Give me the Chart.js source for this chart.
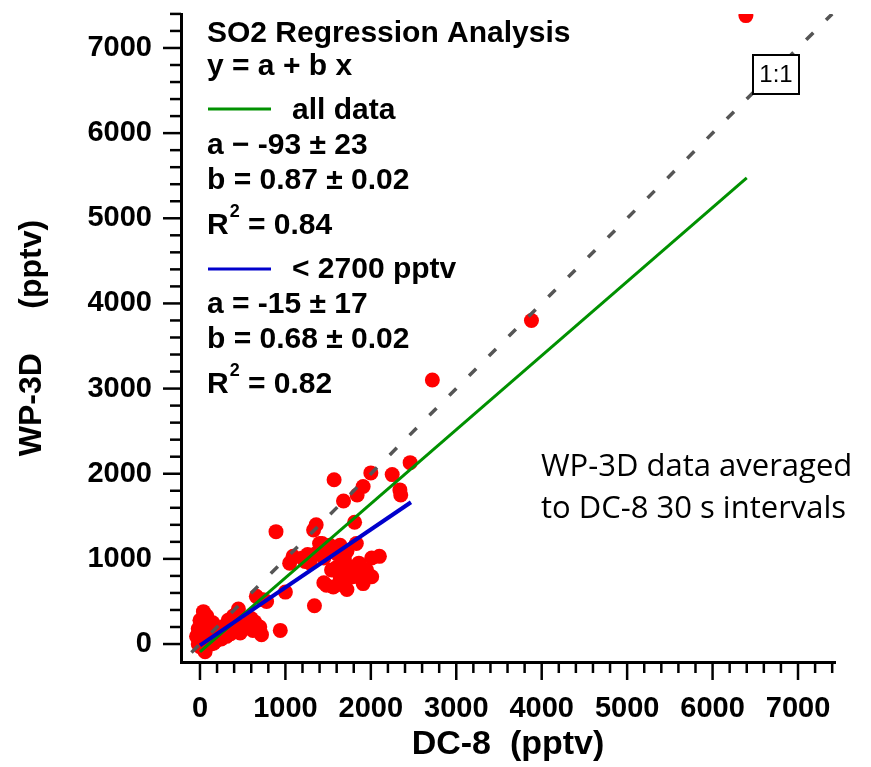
<!DOCTYPE html>
<html>
<head>
<meta charset="utf-8">
<script src="https://cdn.jsdelivr.net/npm/chart.js@4.4.1/dist/chart.umd.min.js"></script>
<style>
  body { margin: 0; background: #fff; }
  #wrap { width: 871px; height: 767px; position: relative; }
</style>
</head>
<body>
<div id="wrap"><canvas id="so2Chart"></canvas></div>
<script>
// DC-8 (x) vs WP-3D (y) SO2, pptv
const dc8 = [6390, 3880, 2720, 2460, 2250, 2340, 2350, 2000, 1910, 1840,
    1570, 1680, 1810, 890, 1360, 1330, 1400, 1520, 1640, 1720,
    1830, 1090, 1050, 1230, 1370, 1290, 1540, 1750, 2010, 2100,
    1950, 2010, 1910, 1480, 1640, 1720, 1790, 1560, 1000, 1340,
    940, 720, 660, 740, 780, 450, 390, 640, 700, 540,
    470, 270, 310, 530, 80, 0, -20, -40, 0, 60,
    160, 160, 230, 120, 40, 20, -20, 80, 200, 350,
    280, 420, 600, 1200, 1450, 1600, 1500, 1700, 1850, 1450,
    1620, 1430, 1560, 1300, 100, 50, 330, 580, 500, 360,
    10, 30, 60, 130, 250, 180, 420, 300, 150, 620,
    1660, 1860, 1600, 1690, 1260, 1420]
const wp3d = [7380, 3800, 3100, 2130, 1990, 1810, 1750, 2010, 1850, 1750,
    1930, 1680, 1430, 1320, 1400, 1340, 1180, 1160, 1160, 1090,
    1180, 1030, 950, 970, 1070, 950, 870, 910, 1010, 1030,
    870, 790, 710, 690, 790, 640, 790, 670, 610, 450,
    160, 110, 560, 520, 500, 410, 330, 260, 200, 190,
    130, 200, 90, 220, 330, 280, 180, 90, -30, -90,
    10, 50, 90, 150, 380, 60, 0, 220, 130, 200,
    150, 250, 300, 1010, 1010, 1060, 1110, 850, 800, 720,
    700, 1180, 1120, 1020, 100, 150, 280, 240, 180, 120,
    120, 240, 180, 0, 60, 30, 150, 220, 250, 160,
    730, 950, 900, 1010, 1050, 1110]

// fitted lines, end points
const allFitX = [0, 6400]
const allFitY = [-93, 5475]
const lowFitX = [0, 2470]
const lowFitY = [-15, 1665]
const oneToOne = [-100, 7400]

const xTicks = [0, 1000, 2000, 3000, 4000, 5000, 6000, 7000]
const yTicks = [0, 1000, 2000, 3000, 4000, 5000, 6000, 7000]

const boldFont = '"Liberation Sans", Arial, sans-serif'

function toPoints(xs, ys) {
    return xs.map((x, i) => ({ x: x, y: ys[i] }))
}

// major ticks every 1000, minor every 200, drawn outside the axes
const tickMarks = {
    id: 'tickMarks',
    afterDraw(chart) {
        const ctx = chart.ctx
        const xs = chart.scales.x
        const ys = chart.scales.y
        ctx.save()
        ctx.strokeStyle = '#000'
        ctx.lineWidth = 2.5
        for (let v = 0; v <= 7400; v += 200) {
            const len = v % 1000 === 0 ? 18 : 11
            const px = xs.getPixelForValue(v)
            ctx.beginPath()
            ctx.moveTo(px, xs.top)
            ctx.lineTo(px, xs.top + len)
            ctx.stroke()
            const py = ys.getPixelForValue(v)
            ctx.beginPath()
            ctx.moveTo(ys.right, py)
            ctx.lineTo(ys.right - len, py)
            ctx.stroke()
        }
        ctx.restore()
    }
}

function drawR2(ctx, x, y, value) {
    ctx.font = 'bold 30px ' + boldFont
    ctx.fillText('R', x, y)
    const w = ctx.measureText('R').width
    ctx.font = 'bold 18px ' + boldFont
    ctx.fillText('2', x + w + 1, y - 17)
    ctx.font = 'bold 30px ' + boldFont
    ctx.fillText('= ' + value, 248, y)
}

const notes = {
    id: 'notes',
    afterDatasetsDraw(chart) {
        const ctx = chart.ctx
        ctx.save()
        ctx.fillStyle = '#000'
        ctx.textAlign = 'left'
        ctx.textBaseline = 'alphabetic'
        ctx.font = 'bold 30px ' + boldFont
        ctx.fillText('SO2 Regression Analysis', 207, 42)
        ctx.fillText('y = a + b x', 207, 75)

        ctx.lineWidth = 3
        ctx.strokeStyle = '#009100'
        ctx.beginPath(); ctx.moveTo(208, 109); ctx.lineTo(271, 109); ctx.stroke()
        ctx.fillText('all data', 292, 119)
        ctx.fillText('a \u2212 -93 \u00b1 23', 207, 154)
        ctx.fillText('b = 0.87 \u00b1 0.02', 207, 189)
        drawR2(ctx, 207, 234, '0.84')

        ctx.strokeStyle = '#0000cc'
        ctx.beginPath(); ctx.moveTo(208, 269); ctx.lineTo(271, 269); ctx.stroke()
        ctx.fillText('< 2700 pptv', 292, 278)
        ctx.fillText('a = -15 \u00b1 17', 207, 313)
        ctx.fillText('b = 0.68 \u00b1 0.02', 207, 348)
        drawR2(ctx, 207, 393, '0.82')

        ctx.font = '31px "Open Sans", sans-serif'
        ctx.fillText('WP-3D data averaged', 541, 476)
        ctx.fillText('to DC-8 30 s intervals', 541, 518)

        // 1:1 label box
        ctx.fillStyle = '#fff'
        ctx.fillRect(753, 55, 46, 39)
        ctx.strokeStyle = '#000'
        ctx.lineWidth = 2
        ctx.strokeRect(753, 55, 46, 39)
        ctx.fillStyle = '#000'
        ctx.font = '24px "Liberation Sans", Arial, sans-serif'
        ctx.textAlign = 'center'
        ctx.textBaseline = 'middle'
        ctx.fillText('1:1', 776, 75)
        ctx.restore()
    }
}

const graph = document.getElementById('so2Chart')

const chartConfig = {
    type: 'scatter',
    data: {
        datasets: [{
            label: 'WP-3D vs DC-8',
            data: toPoints(dc8, wp3d),
            backgroundColor: '#ff0000',
            borderWidth: 0,
            pointRadius: 7.5,
            order: 4
        }, {
            label: '1:1',
            data: toPoints(oneToOne, oneToOne),
            showLine: true,
            borderColor: '#555555',
            borderWidth: 3.5,
            borderDash: [10, 18],
            pointRadius: 0,
            order: 3
        }, {
            label: 'all data',
            data: toPoints(allFitX, allFitY),
            showLine: true,
            borderColor: '#009100',
            borderWidth: 3,
            pointRadius: 0,
            order: 2
        }, {
            label: '< 2700 pptv',
            data: toPoints(lowFitX, lowFitY),
            showLine: true,
            borderColor: '#0000cc',
            borderWidth: 4,
            pointRadius: 0,
            order: 1
        }]
    },
    options: {
        responsive: true,
        maintainAspectRatio: false,
        animation: false,
        layout: {
            padding: { left: 0, right: 36, top: 14, bottom: 0 }
        },
        plugins: {
            legend: { display: false },
            tooltip: { enabled: false }
        },
        scales: {
            x: {
                type: 'linear',
                min: -222,
                max: 7433,
                afterBuildTicks: s => { s.ticks = xTicks.map(v => ({ value: v })) },
                afterFit: s => {
                    s.height = 105
                    s.paddingLeft = 0
                    s.paddingRight = 0
                },
                grid: { display: false, drawTicks: false },
                border: { display: true, color: '#000', width: 3 },
                ticks: {
                    autoSkip: false,
                    maxRotation: 0,
                    minRotation: 0,
                    padding: 30,
                    color: '#000',
                    font: { family: boldFont, size: 29, weight: 'bold' },
                    callback: v => String(v)
                },
                title: {
                    display: true,
                    text: 'DC-8  (pptv)',
                    color: '#000',
                    font: { family: boldFont, size: 34, weight: 'bold' },
                    padding: { top: 0, bottom: 2 }
                }
            },
            y: {
                type: 'linear',
                min: -211,
                max: 7399,
                afterBuildTicks: s => { s.ticks = yTicks.map(v => ({ value: v })) },
                afterFit: s => {
                    s.width = 181
                    s.paddingTop = 0
                    s.paddingBottom = 0
                },
                grid: { display: false, drawTicks: false },
                border: { display: true, color: '#000', width: 3 },
                ticks: {
                    padding: 29,
                    color: '#000',
                    font: { family: boldFont, size: 29, weight: 'bold' },
                    callback: v => String(v)
                },
                title: {
                    display: true,
                    text: 'WP-3D     (pptv)',
                    color: '#000',
                    font: { family: boldFont, size: 32, weight: 'bold' },
                    padding: { top: 13, bottom: 0 }
                }
            }
        }
    },
    plugins: [tickMarks, notes]
}

const chart = new Chart(graph, chartConfig)
</script>
</body>
</html>
